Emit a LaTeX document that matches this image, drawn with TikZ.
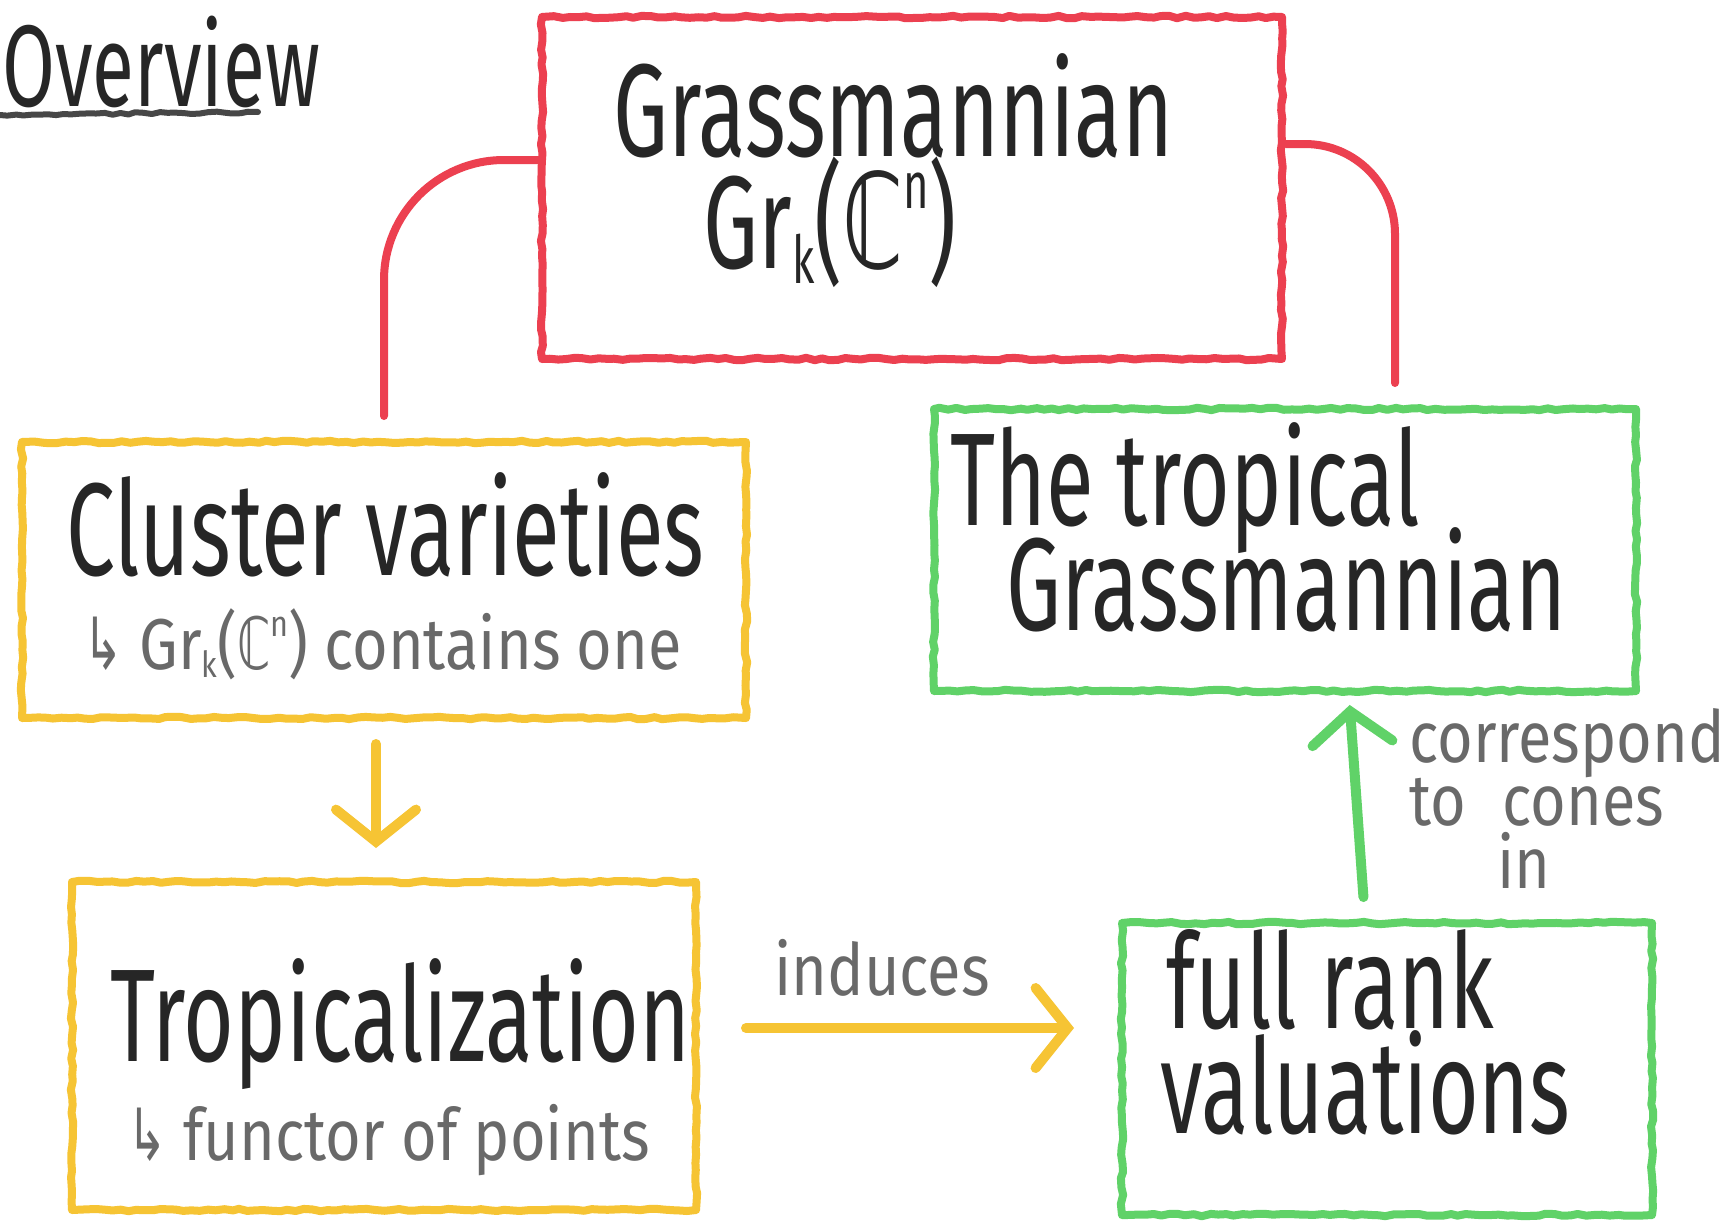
\documentclass[tikz,border=0pt]{standalone}
\usepackage{fontspec}
\usetikzlibrary{decorations.pathmorphing,arrows.meta,calc}
\newfontfamily\hand[FakeStretch=0.66]{Fira Sans}
\newfontfamily\handsml[FakeStretch=0.85]{Fira Sans}
\newfontfamily\handsym[FakeStretch=0.66]{DejaVu Sans}
\newcommand\grkcn{Gr\raisebox{-0.12em}{\scalebox{0.5}{k}}({\handsym ℂ}\raisebox{0.45em}{\scalebox{0.5}{n}})}
\definecolor{cred}{RGB}{236,64,80}
\definecolor{cyel}{RGB}{246,196,52}
\definecolor{cgrn}{RGB}{96,210,104}
\definecolor{cink}{RGB}{38,38,38}
\definecolor{cpen}{RGB}{105,105,105}
\newcommand\penfont{\handsml\fontsize{36}{40}\selectfont\color{cpen}}
\pgfmathsetseed{7}
\begin{document}
\lineskiplimit=-100pt
\begin{tikzpicture}[x=0.5pt,y=-0.5pt,
 crayon/.style={line width=4pt, line cap=round, line join=round, decorate, decoration={random steps,segment length=4pt,amplitude=0.6pt}},
 box/.style={crayon, draw=#1, rectangle, inner sep=0pt},
 big/.style={text=cink, align=left, font=\hand\fontsize{66}{#1}\selectfont, inner sep=0pt, anchor=base west},
 small/.style={text=cpen, align=left, font=\handsml\fontsize{36}{#1}\selectfont, inner sep=0pt, anchor=base west},
 conn/.style={line width=4pt, line cap=round, draw=#1},
 arr/.style={line width=5pt, line cap=round, line join=round, draw=#1, -{Straight Barb[length=16pt,width=40pt,line cap=round]}}]
\useasboundingbox (0,0) rectangle (1733,1221);
\fill[white] (0,0) rectangle (1733,1221);

% boxes
\node[box=cred, minimum width=370pt, minimum height=171pt] (gr) at (912,188) {};
\node[box=cyel, minimum width=362pt, minimum height=138pt] (cl) at (384,580) {};
\node[box=cyel, minimum width=312pt, minimum height=164pt] (tr) at (384,1046) {};
\node[box=cgrn, minimum width=351pt, minimum height=141pt] (tg) at (1285,550) {};
\node[box=cgrn, minimum width=265pt, minimum height=146pt] (gv) at (1387,1069) {};

% title
\node[big=62, font=\hand\fontsize{58}{62}\selectfont] (ov) at (2,106) {Overview};
\draw[crayon, line width=3pt, draw=cink!85] (0,115) -- (258,112);

% texts (anchor = baseline of the last line)
\node[big=56] (tgr) at (613,268) {Grassmannian\\{\hspace{45pt}\grkcn}};
\node[big=47] (tcl) at (66,669) {Cluster varieties\\{\hspace{8.5pt}\penfont{\handsym ↳} \grkcn\ contains one}};
\node[big=49.5] (ttr) at (110,1160) {Tropicalization\\{\hspace{8.5pt}\penfont{\handsym ↳} functor of points}};
\node[big=52.5] (ttg) at (950,630) {The tropical\\{\hspace{28pt}Grassmannian}};
\node[big=52.5] (tgv) at (1160,1133) {{\hspace{3pt}full rank}\\{valuations}};
\node[small=40] (lind) at (774,995) {induces};
\node[small=31.5] (lcor) at (1409,888) {correspond\\{to\hspace{18pt}cones}\\{\hspace{44pt}in}};

% connectors
\draw[conn=cred, rounded corners=60pt, shorten >=11pt] ([yshift=14pt]gr.west) -| (cl.north);
\draw[conn=cred, rounded corners=45pt, shorten >=11pt] ([yshift=22pt]gr.east) -| ([xshift=55pt]tg.north);
\draw[arr=cyel, shorten <=11pt, shorten >=15pt] ([xshift=-4pt]cl.south) -- ([xshift=-4pt]tr.north);
\draw[arr=cyel, shorten <=23pt, shorten >=22pt] ([yshift=9pt]tr.east) -- ([yshift=9pt]tr.east -| gv.west);
\draw[arr=cgrn, shorten <=11pt, shorten >=5pt] ([xshift=-11pt]gv.north) -- ([xshift=32pt]tg.south);
\end{tikzpicture}
\end{document}
